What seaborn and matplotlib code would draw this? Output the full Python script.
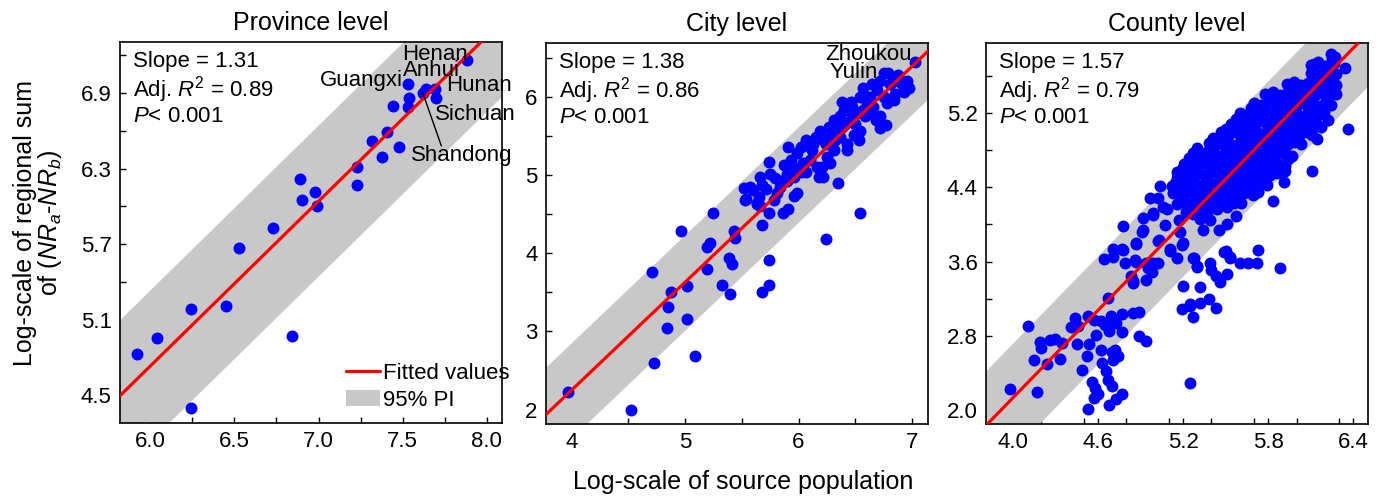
import numpy as np
import pandas as pd
import matplotlib
matplotlib.use("Agg")
import matplotlib.pyplot as plt
import seaborn as sns
from matplotlib.lines import Line2D
from matplotlib.patches import Patch
from matplotlib.ticker import MultipleLocator

# ---- data ----
panel_titles = ["Province level", "City level", "County level"]

prov_pts = [
    (5.92, 4.83), (6.04, 4.95), (6.24, 5.18), (6.24, 4.40), (6.45, 5.21),
    (6.53, 5.67), (6.73, 5.83), (6.84, 4.97), (6.89, 6.22), (6.90, 6.05),
    (6.98, 6.11), (6.99, 6.00), (7.23, 6.17), (7.23, 6.31), (7.32, 6.52),
    (7.38, 6.39), (7.41, 6.59), (7.48, 6.47), (7.44, 6.80), (7.53, 6.79),
    (7.54, 6.86), (7.53, 6.97), (7.62, 6.90), (7.64, 6.93), (7.69, 6.93),
    (7.70, 6.86), (7.88, 7.16),
]

city_pts = [
    # lower tail
    (3.97, 2.22), (4.52, 2.00), (4.73, 2.60), (4.71, 3.76), (4.84, 3.05),
    (4.85, 3.31), (4.88, 3.50), (5.02, 3.16), (5.02, 3.58), (5.09, 2.69),
    (4.96, 4.28), (5.19, 3.80), (5.19, 4.08), (5.22, 4.13), (5.25, 4.52),
    (5.33, 3.60), (5.39, 3.94), (5.41, 3.86), (5.40, 3.48), (5.43, 4.29),
    (5.44, 4.20), (5.68, 4.36), (5.74, 3.91), (5.74, 3.60), (5.68, 3.50),
    (5.74, 4.52), (6.24, 4.18), (6.54, 4.52), (6.35, 4.90),
    # main cloud
    (5.52, 4.84), (5.57, 4.85), (5.54, 4.70), (5.65, 4.72), (5.71, 4.82),
    (5.66, 4.98), (5.63, 4.64), (5.78, 4.68), (5.81, 4.77), (5.86, 4.51),
    (5.91, 4.57), (5.96, 4.73), (5.74, 5.17), (5.75, 5.02), (5.84, 4.92),
    (5.90, 5.02), (5.87, 5.13), (5.93, 5.19), (5.91, 5.36), (5.99, 5.28),
    (5.96, 5.09), (6.04, 5.15), (6.07, 5.45), (6.12, 5.32), (6.15, 5.49),
    (6.02, 5.36), (6.07, 5.04), (6.16, 5.11), (6.22, 4.98), (6.18, 4.98),
    (6.25, 5.23), (6.28, 5.40), (6.31, 5.70), (6.34, 5.57), (6.37, 5.49),
    (6.43, 5.32), (6.44, 5.83), (6.40, 5.83), (6.46, 5.94), (6.50, 5.66),
    (6.53, 5.45), (6.54, 5.57), (6.59, 5.75), (6.57, 6.11), (6.63, 6.00),
    (6.66, 5.87), (6.69, 6.09), (6.72, 5.75), (6.75, 6.00), (6.78, 5.92),
    (6.72, 5.60), (6.77, 5.64), (6.75, 6.31), (6.84, 6.21), (6.93, 6.06),
    (6.96, 6.21), (6.97, 6.11), (7.03, 6.45), (6.85, 6.04), (6.81, 6.17),
    (6.49, 5.51), (6.54, 6.00), (6.60, 5.92), (6.37, 5.75), (6.41, 5.66),
    (6.28, 5.53), (6.24, 5.40), (5.79, 4.96), (5.90, 4.92), (5.96, 4.98),
    (6.02, 5.04), (6.10, 5.19), (6.06, 5.38), (6.13, 5.40), (6.19, 5.57),
    (6.22, 5.45), (6.27, 5.62), (6.32, 5.45), (6.38, 5.62), (6.46, 5.70),
    (6.52, 5.79), (6.57, 5.83), (6.63, 5.79), (6.68, 5.70), (6.65, 6.17),
    (6.84, 5.96), (6.88, 6.28), (6.91, 6.17), (6.72, 6.21), (6.79, 6.30),
    (6.38, 5.94), (6.47, 5.87), (6.31, 5.32), (6.43, 5.40), (6.21, 5.11),
    (6.28, 5.15), (5.84, 4.85), (5.99, 4.77), (5.60, 4.81), (5.68, 4.87),
    (5.53, 4.68), (5.63, 4.63), (5.66, 4.61),
]

county_out = [
    (3.98, 2.23), (4.17, 2.20), (4.11, 2.91), (4.15, 2.54), (4.24, 2.50),
    (4.19, 2.74), (4.20, 2.67), (4.26, 2.76), (4.30, 2.77), (4.33, 2.55),
    (4.35, 2.72), (4.41, 2.90), (4.44, 2.99), (4.45, 2.71), (4.49, 2.43),
    (4.52, 2.58), (4.54, 2.71), (4.53, 3.01), (4.57, 2.97), (4.59, 2.81),
    (4.62, 2.65), (4.63, 2.51), (4.66, 2.42), (4.56, 2.31), (4.58, 2.24),
    (4.60, 2.18), (4.57, 2.13), (4.53, 2.01), (4.67, 2.33), (4.70, 2.26),
    (4.68, 2.06), (4.73, 2.12), (4.77, 2.18), (4.65, 2.92), (4.68, 2.85),
    (4.69, 3.01), (4.73, 2.94), (4.77, 2.84), (4.70, 2.63), (4.73, 2.60),
    (4.71, 2.54), (4.77, 3.04), (4.85, 3.05), (4.89, 3.06), (4.89, 2.80),
    (4.94, 2.75), (4.67, 3.21), (4.78, 3.98), (4.64, 3.63), (4.71, 3.74),
    (4.77, 3.74), (4.79, 3.59), (4.87, 3.79), (4.87, 3.60), (4.83, 3.45),
    (4.85, 3.37), (4.92, 4.07), (4.91, 3.92), (4.97, 4.28), (4.99, 4.10),
    (5.02, 4.28), (5.04, 4.41), (4.94, 3.58), (4.98, 3.49), (5.02, 3.82),
    (5.02, 3.58), (5.07, 3.99), (5.09, 4.17), (5.12, 4.41), (5.11, 3.71),
    (5.16, 3.64), (5.17, 4.05), (5.18, 3.92), (5.20, 3.80), (5.28, 3.64),
    (5.30, 3.54), (5.32, 3.33), (5.20, 3.34), (5.19, 3.09), (5.25, 3.14),
    (5.27, 3.00), (5.32, 3.15), (5.38, 3.20), (5.43, 3.10), (5.39, 3.58),
    (5.40, 3.51), (5.43, 3.44), (5.46, 3.38), (5.51, 3.47), (5.49, 3.70),
    (5.53, 3.64), (5.60, 3.58), (5.66, 3.58), (5.72, 3.58), (5.73, 3.73),
    (5.88, 3.53), (5.25, 2.29), (5.34, 3.94), (5.45, 3.94), (5.51, 4.01),
    (5.57, 4.09), (5.39, 4.05), (5.32, 4.06), (5.51, 4.19), (5.61, 4.23),
    (5.70, 4.33), (5.83, 4.25), (5.91, 4.46), (5.92, 4.58), (6.11, 4.58),
    (6.14, 4.92), (6.22, 5.12), (6.36, 5.03), (6.34, 5.68), (6.25, 5.78),
    (6.12, 5.73), (4.46, 2.91), (4.62, 2.96), (4.72, 2.65), (4.74, 2.58),
    (4.71, 3.65), (4.95, 3.53), (4.94, 3.40), (4.99, 3.58), (5.25, 3.12),
    (4.78, 3.73), (5.06, 4.19), (4.99, 4.12), (5.03, 3.83), (5.11, 3.74),
    (5.19, 3.78), (5.27, 3.64), (5.30, 3.55), (5.50, 3.71), (5.53, 3.65),
    (4.87, 3.80), (4.92, 3.94), (4.86, 3.62), (4.97, 3.56), (4.85, 3.39),
]

county_core = [
    (6.24, 5.83), (6.27, 5.80),
    (6.10, 5.72), (6.15, 5.75), (6.20, 5.71), (6.26, 5.74),
    (6.10, 5.63), (6.14, 5.60), (6.19, 5.64), (6.24, 5.61), (6.28, 5.62),
    (5.93, 5.51), (5.98, 5.53), (6.03, 5.50), (6.08, 5.52), (6.13, 5.54),
    (6.18, 5.51), (6.23, 5.53), (6.28, 5.50),
    (5.78, 5.40), (5.83, 5.42), (5.88, 5.39), (5.93, 5.41), (5.98, 5.43),
    (6.03, 5.40), (6.08, 5.42), (6.13, 5.39), (6.18, 5.41), (6.23, 5.43),
    (6.28, 5.40),
    (5.70, 5.31), (5.75, 5.29), (5.80, 5.32), (5.85, 5.30), (5.90, 5.28),
    (5.95, 5.31), (6.00, 5.29), (6.05, 5.32), (6.10, 5.30), (6.15, 5.28),
    (6.20, 5.31), (6.24, 5.29),
    (5.60, 5.20), (5.65, 5.18), (5.70, 5.21), (5.75, 5.19), (5.80, 5.17),
    (5.85, 5.20), (5.90, 5.18), (5.95, 5.21), (6.00, 5.19), (6.05, 5.17),
    (6.10, 5.20), (6.15, 5.18), (6.19, 5.21),
    (5.54, 5.08), (5.59, 5.10), (5.64, 5.07), (5.69, 5.09), (5.74, 5.11),
    (5.79, 5.08), (5.84, 5.10), (5.89, 5.07), (5.94, 5.09), (5.99, 5.11),
    (6.04, 5.08), (6.09, 5.10), (6.14, 5.07), (6.17, 5.05),
    (5.47, 4.99), (5.52, 4.97), (5.57, 5.00), (5.62, 4.98), (5.67, 4.96),
    (5.72, 4.99), (5.77, 4.97), (5.82, 5.00), (5.87, 4.98), (5.92, 4.96),
    (5.97, 4.99), (6.02, 4.97), (6.07, 5.00), (6.11, 4.96),
    (5.38, 4.88), (5.43, 4.86), (5.48, 4.89), (5.53, 4.87), (5.58, 4.85),
    (5.63, 4.88), (5.68, 4.86), (5.73, 4.89), (5.78, 4.87), (5.83, 4.85),
    (5.88, 4.88), (5.93, 4.86), (5.98, 4.89), (6.03, 4.87),
    (5.27, 4.77), (5.32, 4.75), (5.37, 4.78), (5.42, 4.76), (5.47, 4.74),
    (5.52, 4.77), (5.57, 4.75), (5.62, 4.78), (5.67, 4.76), (5.72, 4.74),
    (5.77, 4.77), (5.82, 4.75), (5.87, 4.78), (5.92, 4.76), (5.97, 4.74),
    (5.21, 4.65), (5.26, 4.67), (5.31, 4.64), (5.36, 4.66), (5.41, 4.68),
    (5.46, 4.65), (5.51, 4.67), (5.56, 4.64), (5.61, 4.66), (5.66, 4.68),
    (5.71, 4.65), (5.76, 4.67), (5.81, 4.64), (5.86, 4.66), (5.92, 4.63),
    (5.16, 4.56), (5.21, 4.54), (5.26, 4.57), (5.31, 4.55), (5.36, 4.53),
    (5.41, 4.56), (5.46, 4.54), (5.51, 4.57), (5.56, 4.55), (5.61, 4.53),
    (5.66, 4.56), (5.71, 4.54), (5.76, 4.57), (5.81, 4.53), (5.86, 4.55),
    (5.14, 4.45), (5.19, 4.43), (5.24, 4.46), (5.29, 4.44), (5.34, 4.42),
    (5.39, 4.45), (5.44, 4.43), (5.49, 4.46), (5.54, 4.44), (5.59, 4.42),
    (5.64, 4.45), (5.69, 4.43), (5.74, 4.46), (5.79, 4.42),
    (5.13, 4.34), (5.18, 4.32), (5.23, 4.35), (5.28, 4.33), (5.33, 4.31),
    (5.38, 4.34), (5.43, 4.32), (5.48, 4.35), (5.53, 4.33), (5.58, 4.31),
    (5.63, 4.34), (5.69, 4.32), (5.73, 4.35),
    (5.16, 4.22), (5.21, 4.24), (5.26, 4.21), (5.31, 4.23), (5.36, 4.25),
    (5.41, 4.22), (5.46, 4.24), (5.51, 4.21), (5.56, 4.23),
    (5.22, 4.13), (5.27, 4.11), (5.32, 4.14), (5.37, 4.12),
    # in-between points that close the gaps of the dense cloud
    (6.12, 5.68), (6.22, 5.67), (5.96, 5.46), (6.06, 5.47), (6.16, 5.46),
    (6.25, 5.47), (5.81, 5.35), (5.91, 5.36), (6.01, 5.35), (6.11, 5.36),
    (6.21, 5.35), (5.68, 5.25), (5.78, 5.24), (5.88, 5.25), (5.98, 5.24),
    (6.08, 5.25), (6.18, 5.24), (5.57, 5.14), (5.67, 5.13), (5.77, 5.14),
    (5.87, 5.13), (5.97, 5.14), (6.07, 5.13), (5.50, 5.03), (5.60, 5.04),
    (5.70, 5.03), (5.80, 5.04), (5.90, 5.03), (6.00, 5.04), (6.10, 5.03),
    (5.41, 4.93), (5.51, 4.92), (5.61, 4.93), (5.71, 4.92), (5.81, 4.93),
    (5.91, 4.92), (6.01, 4.93), (5.30, 4.82), (5.40, 4.81), (5.50, 4.82),
    (5.60, 4.81), (5.70, 4.82), (5.80, 4.81), (5.90, 4.82), (5.24, 4.71),
    (5.34, 4.72), (5.44, 4.71), (5.54, 4.72), (5.64, 4.71), (5.74, 4.72),
    (5.84, 4.71), (5.94, 4.70), (5.19, 4.60), (5.29, 4.61), (5.39, 4.60),
    (5.49, 4.61), (5.59, 4.60), (5.69, 4.61), (5.79, 4.60), (5.89, 4.60),
    (5.16, 4.50), (5.26, 4.49), (5.36, 4.50), (5.46, 4.49), (5.56, 4.50),
    (5.66, 4.49), (5.76, 4.50), (5.15, 4.39), (5.25, 4.38), (5.35, 4.39),
    (5.45, 4.38), (5.55, 4.39), (5.65, 4.38), (5.18, 4.28), (5.28, 4.27),
    (5.38, 4.28), (5.48, 4.27), (5.58, 4.28), (5.24, 4.17), (5.34, 4.18),
    (5.44, 4.17),
]

# fitted line (slope, intercept) and half width of the 95% PI band
fit_slope = [1.31, 1.38, 1.57]
fit_icept = [-3.13, -3.27, -4.148]
pi_half = [0.60, 0.61, 0.58]
stat_text = [["Slope = 1.31", r"Adj. $R^{\mathrm{2}}$ = 0.89", r"$P$< 0.001"],
             ["Slope = 1.38", r"Adj. $R^{\mathrm{2}}$ = 0.86", r"$P$< 0.001"],
             ["Slope = 1.57", r"Adj. $R^{\mathrm{2}}$ = 0.79", r"$P$< 0.001"]]

x_limits = [(5.82, 8.09), (3.774, 7.141), (3.812, 6.502)]
y_limits = [(4.278, 7.305), (1.817, 6.689), (1.853, 5.952)]
x_ticks = [[6.0, 6.5, 7.0, 7.5, 8.0], [4, 5, 6, 7], [4.0, 4.6, 5.2, 5.8, 6.4]]
y_ticks = [[4.5, 5.1, 5.7, 6.3, 6.9], [2, 3, 4, 5, 6], [2.0, 2.8, 3.6, 4.4, 5.2]]
x_minor = [0.25, 0.5, 0.3]
y_minor = [0.3, 0.5, 0.4]
x_fmt = ["{:.1f}", "{:.0f}", "{:.1f}"]
y_fmt = ["{:.1f}", "{:.0f}", "{:.1f}"]

# ---- style ----
sns.set_style("ticks")
plt.rcParams["font.family"] = ["Liberation Sans", "DejaVu Sans"]
plt.rcParams["mathtext.fontset"] = "custom"
plt.rcParams["mathtext.rm"] = "Liberation Sans"
plt.rcParams["mathtext.it"] = "Liberation Sans:italic"
plt.rcParams["mathtext.bf"] = "Liberation Sans:bold"
plt.rcParams["text.color"] = "black"
plt.rcParams["axes.labelcolor"] = "black"
plt.rcParams["xtick.color"] = "black"
plt.rcParams["ytick.color"] = "black"
plt.rcParams["axes.edgecolor"] = "black"

frames = [
    pd.DataFrame(prov_pts, columns=["x", "y"]),
    pd.DataFrame(city_pts, columns=["x", "y"]),
    pd.DataFrame(county_out + county_core, columns=["x", "y"]),
]

fig = plt.figure(figsize=(13.85, 4.96), dpi=100)
lefts = [0.0866, 0.3942, 0.7119]
bottoms = [0.1472, 0.1452, 0.1452]

band_color = "#c8c8c8"

for i in range(3):
    ax = fig.add_axes([lefts[i], bottoms[i], 0.2758, 0.768])
    df = frames[i]

    xs = np.linspace(x_limits[i][0], x_limits[i][1], 200)
    fit = fit_slope[i] * xs + fit_icept[i]
    ax.fill_between(xs, fit - pi_half[i], fit + pi_half[i],
                    color=band_color, lw=0, zorder=1)

    sns.scatterplot(data=df, x="x", y="y", color="blue", s=74,
                    linewidth=0, ax=ax, zorder=3)

    sns.lineplot(x=xs, y=fit, color="red", lw=2.3, ax=ax, zorder=4)

    ax.set_xlim(*x_limits[i])
    ax.set_ylim(*y_limits[i])
    ax.set_xticks(x_ticks[i])
    ax.set_xticklabels([x_fmt[i].format(t) for t in x_ticks[i]])
    ax.set_yticks(y_ticks[i])
    ax.set_yticklabels([y_fmt[i].format(t) for t in y_ticks[i]])
    ax.xaxis.set_minor_locator(MultipleLocator(x_minor[i]))
    ax.yaxis.set_minor_locator(MultipleLocator(y_minor[i]))
    ax.tick_params(which="both", direction="in", length=4, width=1.0,
                   labelsize=16, color="black", labelcolor="black")
    ax.tick_params(axis="y", pad=6)
    ax.tick_params(axis="x", pad=6)
    for sp in ax.spines.values():
        sp.set_visible(True)
        sp.set_linewidth(1.2)
        sp.set_color("black")
    ax.set_xlabel("")
    ax.set_ylabel("")
    ax.set_title(panel_titles[i], fontsize=18, pad=9, color="black")

    for k, line in enumerate(stat_text[i]):
        ax.text(0.035, 0.948 - k * 0.072, line, transform=ax.transAxes,
                fontsize=16, va="center", ha="left", zorder=5)

    if i == 0:
        handles = [Line2D([0], [0], color="red", lw=2.3),
                   Patch(facecolor=band_color, edgecolor="none")]
        ax.legend(handles, ["Fitted values", "95% PI"], loc="lower left",
                  bbox_to_anchor=(0.54, -0.02), frameon=False, fontsize=16,
                  handlelength=1.5, handletextpad=0.15, labelspacing=0.25)
        # province labels (they overlap a little in the reference as well)
        ax.text(7.89, 7.21, "Henan", fontsize=16, ha="right", va="center", zorder=5)
        ax.text(7.84, 7.08, "Anhui", fontsize=16, ha="right", va="center", zorder=5)
        ax.text(7.50, 7.00, "Guangxi", fontsize=16, ha="right", va="center", zorder=5)
        ax.text(7.76, 6.96, "Hunan", fontsize=16, ha="left", va="center", zorder=5)
        ax.text(7.69, 6.73, "Sichuan", fontsize=16, ha="left", va="center", zorder=5)
        ax.text(7.55, 6.40, "Shandong", fontsize=16, ha="left", va="center", zorder=5)
        sd = df.iloc[22]
        ax.plot([7.73, sd["x"]], [6.48, sd["y"]], color="black", lw=1.0, zorder=5)
    if i == 1:
        ax.text(7.00, 6.545, "Zhoukou", fontsize=16, ha="right", va="center", zorder=5)
        ax.text(6.70, 6.315, "Yulin", fontsize=16, ha="right", va="center", zorder=5)

fig.text(743 / 1385, 1 - 482 / 496, "Log-scale of source population",
         fontsize=18, ha="center", va="center")
fig.text(25 / 1385, 0.55, "Log-scale of regional sum", fontsize=18,
         rotation=90, ha="center", va="center")
fig.text(50 / 1385, 0.55, r"of ($NR_a$-$NR_b$)", fontsize=18,
         rotation=90, ha="center", va="center")

fig.savefig("out.png", dpi=100)
